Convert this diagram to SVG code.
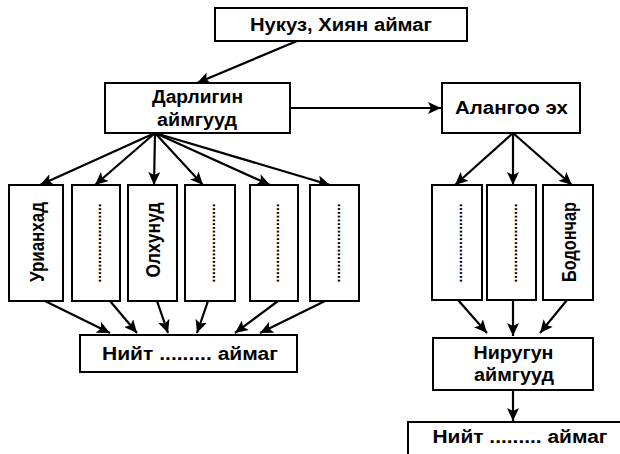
<svg xmlns="http://www.w3.org/2000/svg" width="620" height="454" viewBox="0 0 620 454">
<style>
.box{fill:#fff;stroke:#000;stroke-width:2}
.t{font-family:"Liberation Sans",Arial,sans-serif;font-size:18px;font-weight:bold;fill:#000;text-anchor:middle}
.v{font-family:"Liberation Sans",Arial,sans-serif;font-size:20px;font-weight:bold;fill:#000;text-anchor:middle;dominant-baseline:central}
.d{font-family:"Liberation Sans",Arial,sans-serif;font-size:14px;font-weight:bold;fill:#000;text-anchor:middle;dominant-baseline:central}
.c{stroke:#000;stroke-width:2.2;fill:none;marker-end:url(#ah)}
</style>
<defs>
<marker id="ah" markerUnits="userSpaceOnUse" markerWidth="14" markerHeight="12" refX="13" refY="6" orient="auto">
<path d="M0,0 L13,6 L0,12 L3,6 Z" fill="#000"/>
</marker>
</defs>
<rect width="620" height="454" fill="#fff"/>
<g id="connectors">
<line class="c" x1="297" y1="41" x2="197" y2="83"/>
<line class="c" x1="290" y1="108" x2="441" y2="108"/>
<line class="c" x1="155" y1="133" x2="40" y2="185"/>
<line class="c" x1="155" y1="133" x2="95" y2="185"/>
<line class="c" x1="155" y1="133" x2="154" y2="185"/>
<line class="c" x1="155" y1="133" x2="203" y2="185"/>
<line class="c" x1="155" y1="133" x2="270" y2="185"/>
<line class="c" x1="155" y1="133" x2="330" y2="185"/>
<line class="c" x1="45" y1="301" x2="110" y2="333"/>
<line class="c" x1="110" y1="301" x2="137" y2="333"/>
<line class="c" x1="157" y1="301" x2="168" y2="333"/>
<line class="c" x1="208" y1="301" x2="197" y2="333"/>
<line class="c" x1="278" y1="301" x2="235" y2="333"/>
<line class="c" x1="325" y1="301" x2="260" y2="333"/>
<line class="c" x1="513" y1="133" x2="455" y2="185"/>
<line class="c" x1="513" y1="133" x2="513" y2="185"/>
<line class="c" x1="513" y1="133" x2="572" y2="185"/>
<line class="c" x1="458" y1="300" x2="487" y2="333"/>
<line class="c" x1="513" y1="300" x2="513" y2="336"/>
<line class="c" x1="567" y1="300" x2="540" y2="333"/>
<line class="c" x1="513" y1="390" x2="513" y2="421"/>
</g>
<g id="n-top"><rect class="box" x="215" y="8" width="252" height="33"/><text class="t" x="341" y="31" textLength="182" lengthAdjust="spacingAndGlyphs">Нукуз, Хиян аймаг</text></g>
<g id="n-darligin"><rect class="box" x="105" y="83" width="185" height="50"/><text class="t" x="197.5" y="103" textLength="91" lengthAdjust="spacingAndGlyphs">Дарлигин</text><text class="t" x="197" y="126" textLength="80" lengthAdjust="spacingAndGlyphs">аймгууд</text></g>
<g id="n-alangoo"><rect class="box" x="442" y="83" width="138" height="50"/><text class="t" x="511.5" y="114" textLength="113" lengthAdjust="spacingAndGlyphs">Алангоо эх</text></g>
<g id="n-l1"><rect class="box" x="9" y="185" width="54" height="116"/><text class="v" transform="translate(37,242) rotate(-90)" textLength="80" lengthAdjust="spacingAndGlyphs">Урианхад</text></g>
<g id="n-l2"><rect class="box" x="72" y="185" width="48" height="116"/><text class="d" transform="translate(96,243) rotate(-90)" textLength="79" lengthAdjust="spacingAndGlyphs">.....................</text></g>
<g id="n-l3"><rect class="box" x="128" y="185" width="49" height="116"/><text class="v" transform="translate(153,240) rotate(-90)" textLength="75" lengthAdjust="spacingAndGlyphs">Олхунуд</text></g>
<g id="n-l4"><rect class="box" x="185" y="185" width="50" height="116"/><text class="d" transform="translate(210,243) rotate(-90)" textLength="79" lengthAdjust="spacingAndGlyphs">.....................</text></g>
<g id="n-l5"><rect class="box" x="250" y="185" width="48" height="116"/><text class="d" transform="translate(274,243) rotate(-90)" textLength="79" lengthAdjust="spacingAndGlyphs">.....................</text></g>
<g id="n-l6"><rect class="box" x="310" y="185" width="49" height="116"/><text class="d" transform="translate(334.5,243) rotate(-90)" textLength="79" lengthAdjust="spacingAndGlyphs">.....................</text></g>
<g id="n-niit1"><rect class="box" x="80" y="335" width="217" height="37"/><text class="t" x="190" y="360" textLength="176" lengthAdjust="spacingAndGlyphs">Нийт ......... аймаг</text></g>
<g id="n-r1"><rect class="box" x="432" y="185" width="50" height="115"/><text class="d" transform="translate(457,243) rotate(-90)" textLength="79" lengthAdjust="spacingAndGlyphs">.....................</text></g>
<g id="n-r2"><rect class="box" x="487" y="185" width="49" height="115"/><text class="d" transform="translate(511.5,243) rotate(-90)" textLength="79" lengthAdjust="spacingAndGlyphs">.....................</text></g>
<g id="n-r3"><rect class="box" x="543" y="185" width="50" height="115"/><text class="v" transform="translate(569,242) rotate(-90)" textLength="80" lengthAdjust="spacingAndGlyphs">Бодончар</text></g>
<g id="n-nirugun"><rect class="box" x="433" y="338" width="160" height="52"/><text class="t" x="513.5" y="359" textLength="80" lengthAdjust="spacingAndGlyphs">Ниругун</text><text class="t" x="514" y="381" textLength="80" lengthAdjust="spacingAndGlyphs">аймгууд</text></g>
<g id="n-niit2"><rect class="box" x="408" y="422" width="222" height="40"/><text class="t" x="520" y="443" textLength="175" lengthAdjust="spacingAndGlyphs">Нийт ......... аймаг</text></g>
</svg>
